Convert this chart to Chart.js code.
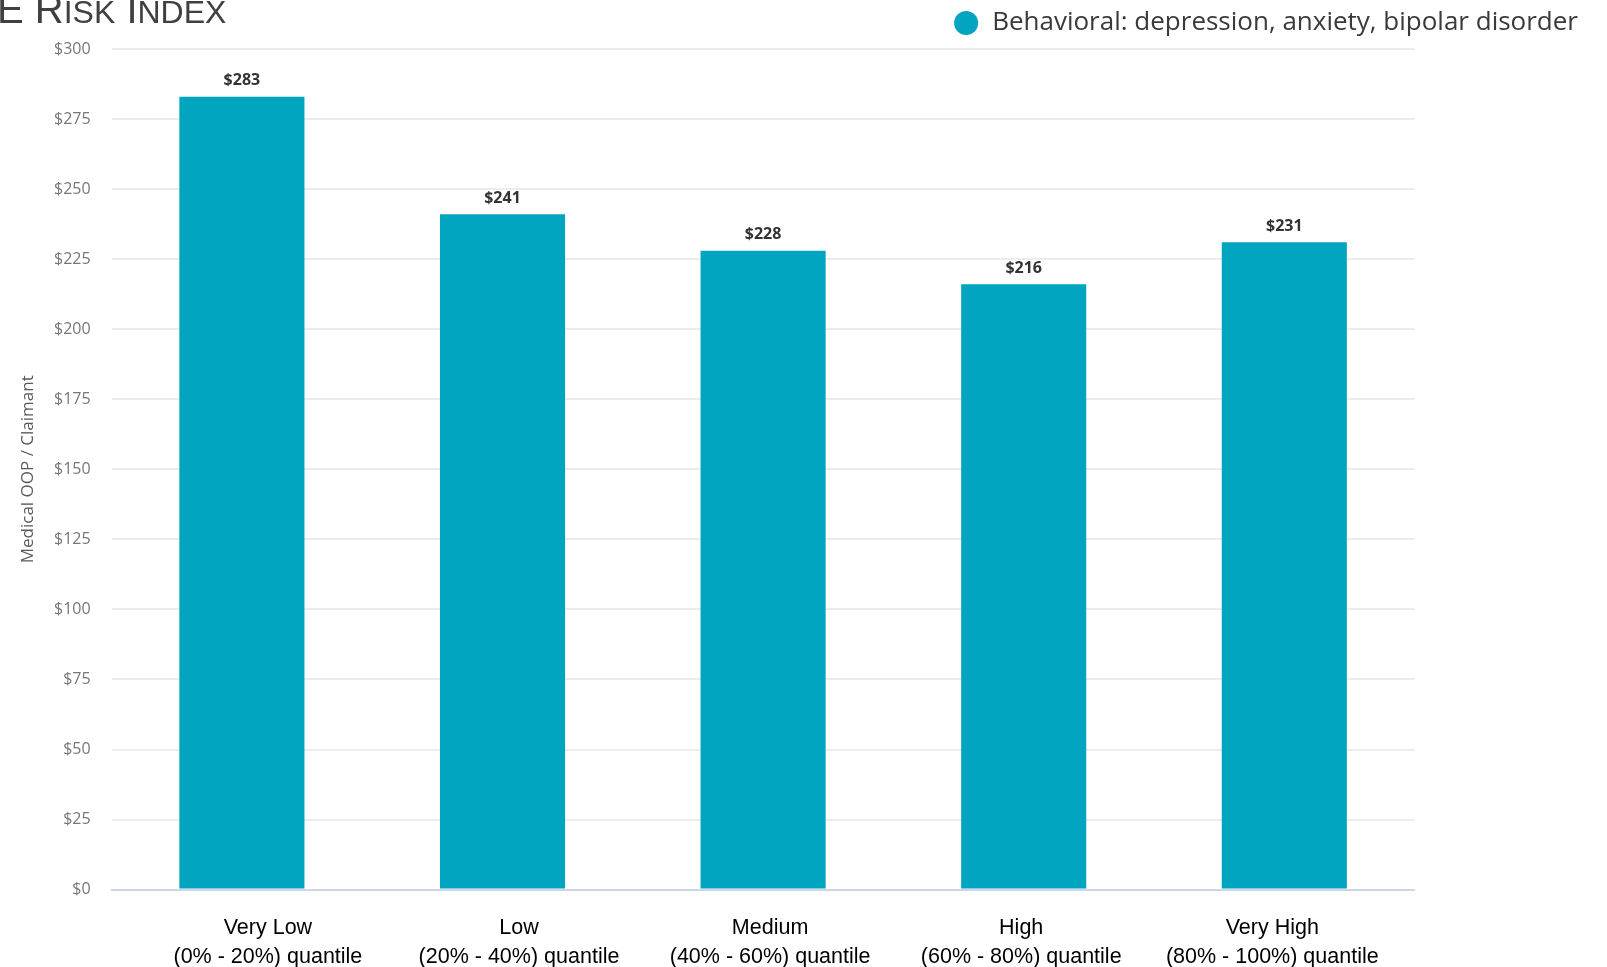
<!DOCTYPE html>
<html>
<head>
<meta charset="utf-8">
<script src="https://cdn.jsdelivr.net/npm/chart.js@4.4.0/dist/chart.umd.min.js"></script>
<style>
    html, body { margin: 0; padding: 0; background: #fff; overflow: hidden; }
    #wrap { position: relative; width: 1607px; height: 967px; }
    #myChart { position: absolute; left: 0; top: 0; }
    #pageTitle {
        position: absolute; left: -3px; top: -11px;
        font-family: "Liberation Sans", Arial, sans-serif;
        font-size: 40px; line-height: 40px; color: #404040; white-space: nowrap;
    }
    #pageTitle small { font-size: 32px; }
</style>
</head>
<body>
<div id="wrap">
    <canvas id="myChart" width="1607" height="967"></canvas>
    <div id="pageTitle">E R<small>ISK</small> I<small>NDEX</small></div>
</div>
<script>
let categories = [
    ['Very Low', '(0% - 20%) quantile'],
    ['Low', '(20% - 40%) quantile'],
    ['Medium', '(40% - 60%) quantile'],
    ['High', '(60% - 80%) quantile'],
    ['Very High', '(80% - 100%) quantile']
];
let series_name = 'Behavioral: depression, anxiety, bipolar disorder';
let values = [283, 241, 228, 216, 231];
let y_ticks = [0, 25, 50, 75, 100, 125, 150, 175, 200, 225, 250, 275, 300];
let y_title = 'Medical OOP / Claimant';

// value labels above each bar
const barLabels = {
    id: 'barLabels',
    afterDatasetsDraw(chart) {
        let ctx = chart.ctx;
        let meta = chart.getDatasetMeta(0);

        ctx.save();
        ctx.font = 'bold 16px "Open Sans"';
        ctx.fillStyle = '#333333';
        ctx.textAlign = 'center';
        ctx.textBaseline = 'middle';
        meta.data.forEach((bar, i) => {
            ctx.fillText('$' + values[i], bar.x, bar.y - 16);
        });
        ctx.restore();
    }
};

function setGraph() {
    let ctx = document.getElementById('myChart').getContext('2d');

    return new Chart(ctx, {
        type: 'bar',
        data: {
            labels: categories,
            datasets: [{
                label: series_name,
                data: values,
                backgroundColor: '#01a5bf',
                borderWidth: 0,
                pointStyle: 'circle',
                barPercentage: 0.48,
                categoryPercentage: 1.0
            }]
        },
        options: {
            responsive: false,
            animation: false,
            devicePixelRatio: 1,
            layout: {
                padding: { left: 0, right: 19, top: 0, bottom: 0 }
            },
            plugins: {
                tooltip: { enabled: false },
                legend: {
                    position: 'top',
                    align: 'end',
                    labels: {
                        usePointStyle: true,
                        boxHeight: 17,
                        padding: 10,
                        color: '#3a3a3a',
                        font: { family: '"Open Sans"', size: 26 }
                    }
                }
            },
            scales: {
                x: {
                    weight: 0,
                    grid: { display: false },
                    border: { display: true, color: '#ccd6eb', width: 2 },
                    ticks: { display: false },
                    afterFit: (scale) => { scale.height = 0; }
                },
                // category names sit on their own spacing, a bit narrower than the bars
                xLabels: {
                    type: 'linear',
                    position: 'bottom',
                    weight: 1,
                    offset: false,
                    min: -0.6225,
                    max: 4.5667,
                    grid: { display: false, drawTicks: false },
                    border: { display: false },
                    afterBuildTicks: (scale) => {
                        scale.ticks = categories.map((c, i) => ({ value: i }));
                    },
                    ticks: {
                        color: '#000000',
                        padding: 24,
                        maxRotation: 0,
                        autoSkip: false,
                        font: { family: '"Liberation Sans"', size: 21.5, lineHeight: 1.35 },
                        callback: (v) => categories[v]
                    },
                    afterFit: (scale) => { scale.height = 77.4; }
                },
                xTop: {
                    position: 'top',
                    display: true,
                    grid: { display: false },
                    border: { display: false },
                    ticks: { display: false },
                    afterFit: (scale) => { scale.height = 3; }
                },
                y: {
                    min: y_ticks[0],
                    max: y_ticks[y_ticks.length - 1],
                    grid: { color: '#ececec', lineWidth: 2, drawTicks: false },
                    border: { display: false },
                    ticks: {
                        stepSize: y_ticks[1] - y_ticks[0],
                        padding: 21,
                        color: '#777777',
                        font: { family: '"Open Sans"', size: 16 },
                        callback: (v) => '$' + v
                    },
                    title: {
                        display: true,
                        text: y_title,
                        color: '#5a5a5a',
                        padding: { top: 18, bottom: 0 },
                        font: { family: '"Open Sans"', size: 17 }
                    },
                    afterFit: (scale) => { scale.width = 111.6; }
                },
                yRight: {
                    position: 'right',
                    display: true,
                    grid: { display: false },
                    border: { display: false },
                    ticks: { display: false },
                    afterFit: (scale) => { scale.width = 173.4; }
                }
            }
        },
        plugins: [barLabels]
    });
}

let chart_inst = setGraph();
</script>
</body>
</html>
